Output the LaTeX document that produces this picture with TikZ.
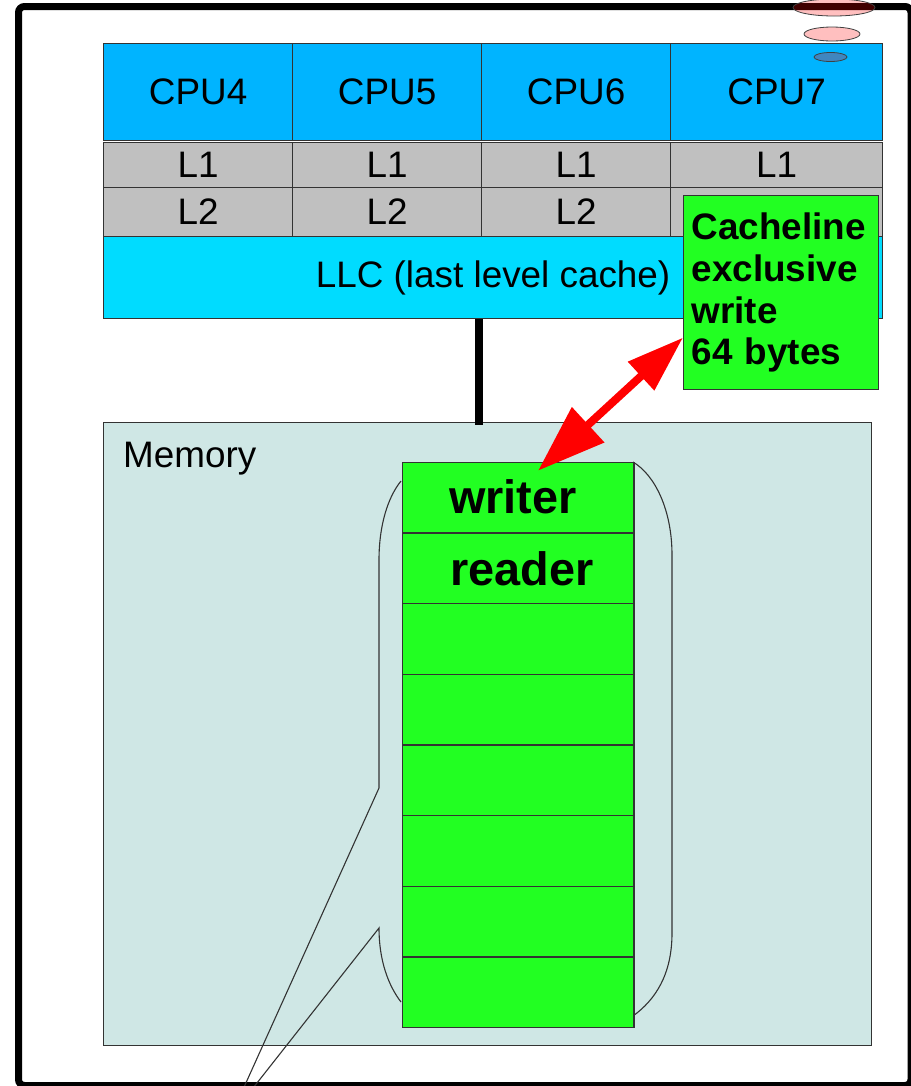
\documentclass[tikz,border=0pt]{standalone}
\usepackage{fontspec}
\setmainfont{Liberation Sans}
\usepackage{tikz}
\usetikzlibrary{arrows.meta,positioning}
\definecolor{cpublue}{RGB}{0,180,255}
\definecolor{llccyan}{RGB}{0,220,255}
\definecolor{cachegray}{RGB}{192,192,192}
\definecolor{slotgreen}{RGB}{34,255,34}
\definecolor{memteal}{RGB}{207,231,229}
\definecolor{edgegray}{RGB}{51,51,51}
\newcommand\txtreg{\fontsize{37}{42}\selectfont}
\newcommand\txtbold{\fontsize{37}{42}\selectfont\bfseries}
\newcommand\txtbig{\fontsize{47}{52}\selectfont\bfseries}
\tikzset{font=\txtreg}
\tikzset{box/.style={draw=edgegray, line width=1.2bp, inner sep=0pt, anchor=north west}}
\tikzset{cpucell/.style={box, fill=cpublue, minimum height=97bp}}
\tikzset{cachecell/.style={box, fill=cachegray}}
\tikzset{slotcell/.style={box, fill=slotgreen, minimum width=231.6bp, minimum height=70.66bp}}
\tikzset{edge/.style={draw=edgegray, line width=1.1bp}}
\tikzset{bubble/.style={fill=red, fill opacity=0.25, draw=black!75, line width=0.8bp}}
\tikzset{redarrow/.style={draw=red, line width=8bp,
    {Triangle[length=57bp,width=37bp]}-{Triangle[length=68bp,width=46bp]}}}

\begin{document}
\begin{tikzpicture}[x=1bp,y=-1bp]
\useasboundingbox (0,0) rectangle (911,1086);
\clip (0,0) rectangle (911,1086);
% outer frame
\draw[line width=7bp, rounded corners=6bp] (18.5,1085.5) -- (18.5,6.5) -- (911,6.5) -- (911,1085.5) -- cycle;

% cpus and their caches
\foreach \n/\x/\w/\t in {4/103/189/L2,5/292/189/L2,6/481/189/L2,7/670/212/{}}{
  \node[cpucell, minimum width=\w bp] (cpu\n) at (\x,43) {CPU\n};
  \node[cachecell, minimum width=\w bp, minimum height=45bp] (lone\n) at (\x,142) {L1};
  \node[cachecell, minimum width=\w bp, minimum height=49bp] (ltwo\n) at (\x,187) {\t};
}
\node[box, fill=llccyan, minimum width=779bp, minimum height=82bp] (llc) at (103,236) {LLC (last level cache)};

% memory
\node[box, fill=memteal, minimum width=768bp, minimum height=623bp] (mem) at (103,422) {};
\node[anchor=base west, inner sep=0pt] (memlbl) at (123,467) {Memory};
\coordinate (bus) at (479,0);
\draw[line width=7.5bp, shorten >=-3bp] (bus |- llc.south) -- (bus |- mem.north);

% brace round the buffer
\draw[edge] (401,481) .. controls (388,497) and (379,525) .. (379,560) -- (379,788)
  -- (231,1116) -- (379,928) .. controls (379,960) and (388,985) .. (401,1002);
\draw[edge] (633,462) .. controls (655,475) and (672,510) .. (672,555) -- (672,933)
  .. controls (672,975) and (655,1000) .. (633,1016);

\foreach \i in {1,...,8}
  \node[slotcell] (slot\i) at (401.7,{461.7+(\i-1)*70.66}) {};
\node[anchor=base west, inner sep=0pt, font=\txtbig] (wtxt) at (449,513) {writer};
\node[anchor=base west, inner sep=0pt, font=\txtbig] (rtxt) at (450,585) {reader};

\node[box, fill=slotgreen, minimum width=195bp, minimum height=194bp, text width=179bp,
  align=left, font=\txtbold] (cline) at (683,195) {Cacheline\\exclusive\\write\\64 bytes};

\coordinate (tipup) at ([yshift=-45bp]cline.west);
\coordinate (tipdn) at ([xshift=20bp, yshift=-9bp]slot1.north);
\draw[redarrow] (tipup) -- (tipdn);

\foreach \cx/\cy/\rx/\ry in {834/7.5/41/8.5, 832/34/28/7, 830.5/57/16.5/4.5}
  \draw[bubble] (\cx,\cy) ellipse [x radius=\rx bp, y radius=\ry bp];
\end{tikzpicture}
\end{document}
